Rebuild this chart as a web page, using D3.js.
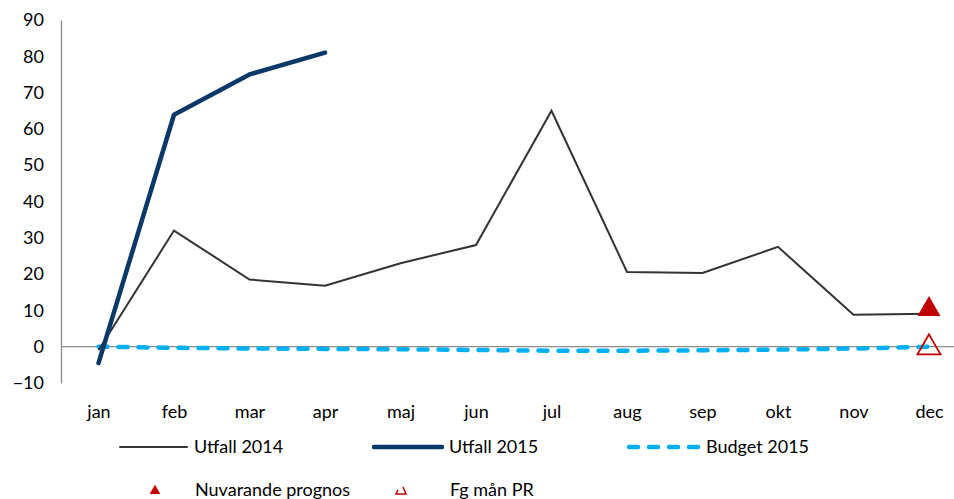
<!DOCTYPE html>
<html><head><meta charset="utf-8">
<script src="https://cdn.jsdelivr.net/npm/d3@7"></script>
<style>body{margin:0;background:#fff}svg{display:block;font-family:Lato,"Open Sans",sans-serif}</style>
</head><body><svg id="c" width="954" height="499"></svg>
<script>
const months = ["jan","feb","mar","apr","maj","jun","jul","aug","sep","okt","nov","dec"];
const utfall2014 = [-1,32,18.5,16.8,23,28,65,20.6,20.3,27.5,8.8,9.1];
const utfall2015 = [-4.5,63.9,75,81];
const budget2015 = [0,-0.3,-0.5,-0.6,-0.7,-0.9,-1.1,-1.1,-1.0,-0.8,-0.5,0];
const nuvarandePrognos = {month:"dec", value:10};
const fgManPR = {month:"dec", value:0};
const yTicks = [-10,0,10,20,30,40,50,60,70,80,90];

const svg = d3.select("#c");
const x = d3.scalePoint().domain(months).range([98.5,929]);
const y = d3.scaleLinear().domain([-10,90]).range([383,20]);
const FS = 18;

// y axis
const ya = svg.append("g").attr("transform","translate(61,0)")
  .call(d3.axisLeft(y).tickValues(yTicks).tickSize(0).tickPadding(17));
ya.select(".domain").attr("stroke","#8c8c8c").attr("stroke-width",1.3);
ya.selectAll("text").attr("font-size",FS).attr("fill","#000").attr("font-family","Lato,sans-serif");

// zero line / x axis
const xa = svg.append("g").attr("transform",`translate(0,${y(0)})`)
  .call(d3.axisBottom(x).tickSize(0).tickPadding(0));
xa.select(".domain").remove();
xa.append("line").attr("x1",61).attr("x2",954).attr("stroke","#8c8c8c").attr("stroke-width",1.3);
xa.selectAll(".tick text").attr("font-size",FS).attr("fill","#000").attr("dy",null)
  .attr("y",418-y(0)).attr("font-family","Lato,sans-serif");

const line = d3.line().x((d,i)=>x(months[i])).y(d=>y(d));

svg.append("path").datum(budget2015).attr("d",line).attr("fill","none")
  .attr("stroke","#00b0f0").attr("stroke-width",4.5).attr("stroke-dasharray","9,11").attr("stroke-linecap","round");
svg.append("path").datum(utfall2014).attr("d",line).attr("fill","none")
  .attr("stroke","#333333").attr("stroke-width",2);
svg.append("path").datum(utfall2015).attr("d",line).attr("fill","none")
  .attr("stroke","#0a3868").attr("stroke-width",4.5).attr("stroke-linejoin","round").attr("stroke-linecap","round");

const tri = d3.symbol().type(d3.symbolTriangle);
svg.append("path").attr("d",tri.size(230)())
  .attr("transform",`translate(${x(nuvarandePrognos.month)},${y(nuvarandePrognos.value)-1})`)
  .attr("fill","#c00000");
svg.append("path").attr("d",tri.size(230)())
  .attr("transform",`translate(${x(fgManPR.month)},${y(fgManPR.value)+1})`)
  .attr("fill","none").attr("stroke","#c00000").attr("stroke-width",1.8);

// legend
const lg = svg.append("g").attr("font-size",FS);
const row1 = [
  {name:"Utfall 2014", x1:120, x2:187, color:"#333333", w:2, dash:null},
  {name:"Utfall 2015", x1:374, x2:442, color:"#0a3868", w:4.5, dash:null},
  {name:"Budget 2015", x1:629, x2:699, color:"#00b0f0", w:4.5, dash:"9,11"}
];
row1.forEach(d=>{
  lg.append("line").attr("x1",d.x1).attr("x2",d.x2).attr("y1",447).attr("y2",447)
    .attr("stroke",d.color).attr("stroke-width",d.w).attr("stroke-linecap","round")
    .attr("stroke-dasharray",d.dash);
  lg.append("text").attr("x",d.x2+7).attr("y",453).text(d.name);
});
lg.append("path").attr("d",tri.size(50)()).attr("transform","translate(155,491)").attr("fill","#c00000");
lg.append("text").attr("x",195).attr("y",496).text("Nuvarande prognos");
lg.append("path").attr("d","M403,487 L406,494 L396,494 L398,490").attr("fill","none").attr("stroke","#c00000").attr("stroke-width",1.5);
lg.append("text").attr("x",450).attr("y",496).text("Fg mån PR");
</script></body></html>
